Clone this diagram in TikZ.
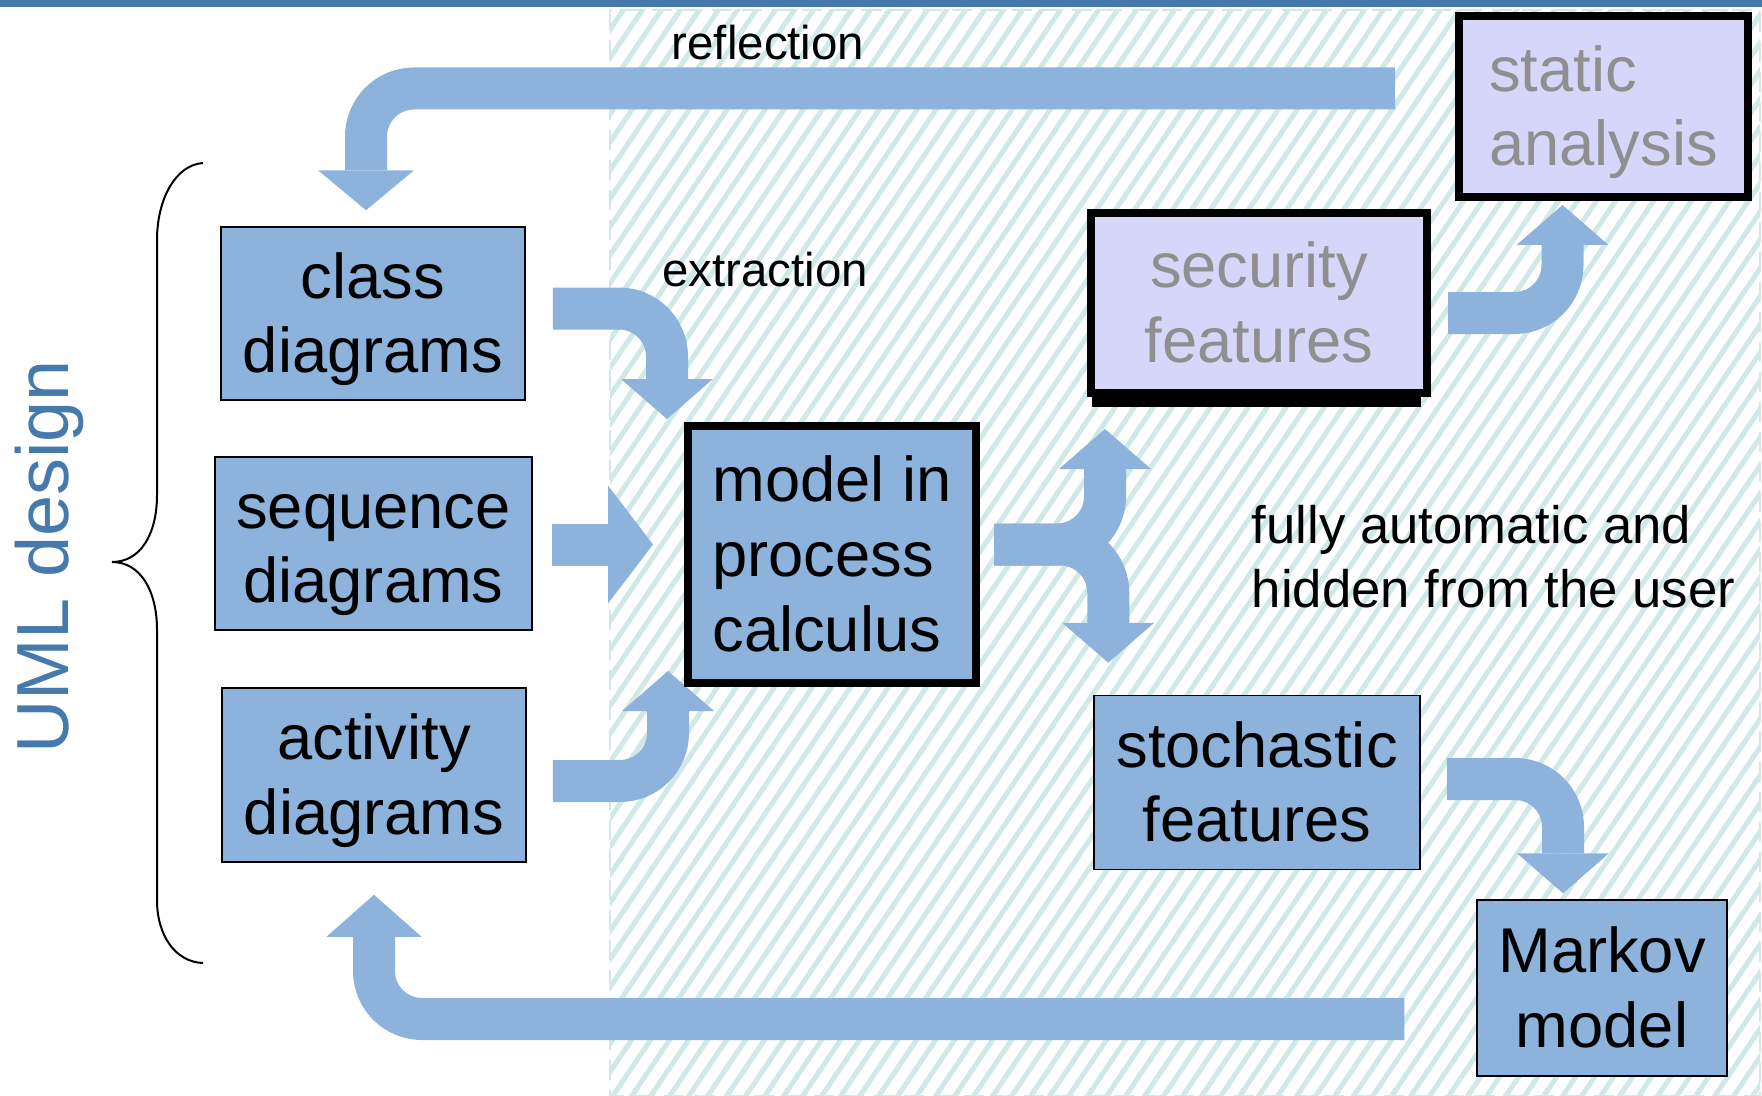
\documentclass[tikz,border=0pt]{standalone}
\usepackage{fontspec}
\setmainfont{Liberation Sans}
\usetikzlibrary{arrows.meta, calc}
\pgfdeclarelayer{background}
\pgfsetlayers{background,main}

\begin{document}
\begin{tikzpicture}[
    x=0.1mm, y=-0.1mm,
    every node/.style={inner sep=0pt},
]

% ---------------------------------------------------------------- colours
\definecolor{boxblue}{HTML}{8DB3DD}     % boxes and the fat arrows
\definecolor{lavender}{HTML}{D6D6FA}    % the hidden analyses
\definecolor{greytext}{HTML}{8F8F8F}
\definecolor{hatchteal}{HTML}{D0E8E8}
\definecolor{umlblue}{HTML}{4679AC}

% text box sized as the slide software sets it (font ascent / descent)
\tikzset{
    umlbox/.style={draw=black, line width=0.15mm, fill=boxblue, align=center,
        font=\fontsize{18}{21.3}\selectfont, text height=37.6pt, text depth=3.8pt},
    heavybox/.style={umlbox, line width=0.8mm},
    featbox/.style={heavybox, fill=lavender, text=greytext},
    flow/.style={draw=boxblue, line width=4.2mm, rounded corners=4.8mm,
        -{Triangle[width=9.2mm, length=4mm, line width=0pt]}},
    hatchline/.style={hatchteal, line width=0.5mm},
    note/.style={font=\fontsize{13.5}{16}\selectfont},
}

\useasboundingbox (0,0) rectangle (1762,1096);
\fill[umlblue] (0,0) rectangle (1762,7);

% ================================================================
% the hidden part: hatched area on the right
% ================================================================
\begin{pgfonlayer}{background}
    \begin{scope}
        \clip (610,10) rectangle (1760,1096);
        \foreach \x in {-150,-131,...,1760}
            \draw[hatchline] (\x,1100) -- ++(742,-1100);
    \end{scope}
    \draw[hatchteal, line width=0.25mm, dash pattern=on 2mm off 1mm]
        (610,10) rectangle (1760,1096);
\end{pgfonlayer}

% ----------------------------------------------------------------------
% UML side
% ----------------------------------------------------------------------
\node[umlbox, minimum width=30.4mm, minimum height=17.3mm] (cls) at (373,313.5)
    {class\\diagrams};
\node[umlbox, minimum width=31.7mm, minimum height=17.3mm] (seq) at (373.5,543.5)
    {sequence\\diagrams};
\node[umlbox, minimum width=30.4mm, minimum height=17.4mm] (act) at (374,775)
    {activity\\diagrams};

\node[font=\fontsize{21}{25}\selectfont, text=umlblue, rotate=90] (uml) at (49,557)
    {UML design};
\draw[line width=0.2mm] (203,163) .. controls (175,165) and (157,200) .. (157,240)
    -- (157,495) .. controls (157,535) and (140,562) .. (112,562)
    .. controls (140,562) and (157,590) .. (157,630)
    -- (157,900) .. controls (157,935) and (175,962) .. (203,963);

% ----------------------------------------------------------------------
% model and what is got from it
% ----------------------------------------------------------------------
\node[heavybox, align=left, text height=58.9pt, minimum width=28.8mm,
    minimum height=25.7mm] (model) at (832,554.5) {model in\\process\\calculus};

\node[featbox, minimum width=33.6mm, minimum height=18mm] (sec) at (1259,303)
    {security\\features};
\fill[black] ($(sec.south west)+(5,0)$) rectangle ($(sec.south east)+(-10,10)$);
\node[featbox, align=left, minimum width=28.9mm, minimum height=18.1mm] (stat)
    at (1603.5,106.5) {static\\analysis};

\node[umlbox, minimum width=32.6mm, minimum height=17.4mm] (sto) at (1257,782.5)
    {stochastic\\features};
\node[umlbox, minimum width=25mm, minimum height=17.6mm] (mkv) at (1602,988)
    {Markov\\model};

\node[note, anchor=base] (reflbl) at (768,60) {reflection};
\node[note, anchor=base] (extlbl) at (765,287) {extraction};
\node[font=\fontsize{15}{18.2}\selectfont, align=left, anchor=north west] (autolbl)
    at (1251,505) {fully automatic and\\hidden from the user};

% ================================================================
% fat arrows, under the boxes
% ================================================================
\begin{pgfonlayer}{background}
    % extraction
    \draw[flow] ($(cls.east)+(27,-5)$) -| ($(model.north west)+(-17,-3)$);
    \draw[flow, -{Triangle[width=11.8mm, length=4.5mm, line width=0pt]}]
        ($(seq.east)+(19,1)$) -- ($(model.west)+(-31,-10)$);
    \draw[flow] ($(act.east)+(26,6)$) -| ($(model.south west)+(-16,-16)$);

    % fork to the two kinds of features
    \coordinate (fork) at ($(model.east)+(14,-10)$);
    \draw[flow] (fork) -| ($(sec.south west)+(18,32)$);
    \draw[flow] (fork) -| ($(sto.north west)+(15,-32)$);

    \draw[flow] ($(sec.east)+(17,10)$) -| ($(stat.south)+(-41,4)$);
    \draw[flow] ($(sto.east)+(26,-3.5)$) -| ($(mkv.north)+(-39,-6)$);

    % reflection back to the design
    \draw[flow, -{Triangle[width=9.6mm, length=4mm, line width=0pt]}]
        ($(stat.west)+(-60,-18)$) -| ($(cls.north)+(-7,-16)$);
    \draw[flow, -{Triangle[width=9.5mm, length=4.2mm, line width=0pt]}]
        ($(mkv.west)+(-72,31)$) -| ($(act.south)+(0,32)$);
\end{pgfonlayer}

\end{tikzpicture}
\end{document}
